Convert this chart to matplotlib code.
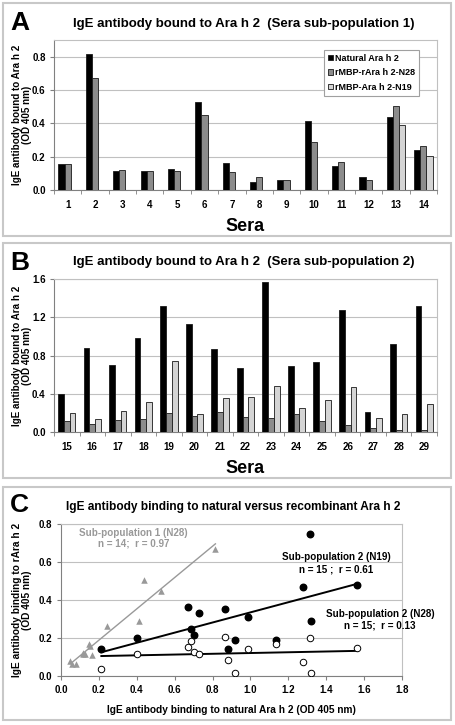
import numpy as np
import matplotlib
matplotlib.use("Agg")
import matplotlib.pyplot as plt
from matplotlib.patches import Rectangle
from matplotlib.ticker import MultipleLocator, FixedLocator

plt.rcParams['font.family'] = ['Liberation Sans', 'DejaVu Sans']
plt.rcParams['font.weight'] = 'bold'

# ---------------- data ----------------
sera_a = [str(i) for i in range(1, 15)]
natural_a = [0.155, 0.815, 0.117, 0.117, 0.128, 0.527, 0.163, 0.050, 0.060, 0.413, 0.147, 0.077, 0.437, 0.243]
n28_a = [0.158, 0.670, 0.122, 0.117, 0.115, 0.450, 0.110, 0.080, 0.062, 0.290, 0.167, 0.063, 0.505, 0.265]
n19_a = [np.nan] * 12 + [0.392, 0.207]

sera_b = [str(i) for i in range(15, 30)]
natural_b = [0.400, 0.880, 0.704, 0.986, 1.314, 1.133, 0.868, 0.673, 1.565, 0.687, 0.728, 1.276, 0.213, 0.917, 1.318]
n28_b = [0.115, 0.084, 0.125, 0.140, 0.199, 0.167, 0.206, 0.153, 0.150, 0.185, 0.118, 0.073, 0.038, 0.017, 0.017]
n19_b = [0.200, 0.140, 0.215, 0.310, 0.745, 0.192, 0.352, 0.363, 0.477, 0.250, 0.330, 0.470, 0.143, 0.190, 0.290]

series_names = ['Natural Ara h 2', 'rMBP-rAra h 2-N28', 'rMBP-Ara h 2-N19']
series_colors = ['#000000', '#8c8c8c', '#d4d4d4']

W, H = 455, 725
fig = plt.figure(figsize=(W / 100, H / 100), dpi=100)

def fx(px):
    return px / W

def fy(py):
    return 1 - py / H

# panel frames
for (x0, y0, x1, y1) in [(3, 3, 451, 236), (3, 243, 451, 478), (3, 487, 451, 720)]:
    fig.patches.append(Rectangle((fx(x0), fy(y1)), fx(x1) - fx(x0), fy(y0) - fy(y1),
                                 transform=fig.transFigure, fill=False,
                                 edgecolor='#c8c8c8', lw=1.5))

grid_c = '#c0c0c0'
axis_c = '#808080'

def bar_panel(rect, cats, vals, ylim, ystep, title, letter, ty, ly, legend=False):
    ax = fig.add_axes(rect)
    n = len(cats)
    x = np.arange(n)
    w = 0.225
    for k, (v, c, nm) in enumerate(zip(vals, series_colors, series_names)):
        ax.bar(x + (k - 1) * w, v, width=w, color=c, edgecolor='#1a1a1a', lw=0.6, label=nm, zorder=3)
    ax.set_xlim(-0.5, n - 0.5)
    ax.set_ylim(*ylim)
    ax.yaxis.set_major_locator(MultipleLocator(ystep))
    ax.yaxis.set_major_formatter(plt.FuncFormatter(lambda v, p: f'{v:.1f}'))
    ax.set_xticks(x)
    ax.set_xticklabels(cats)
    ax.xaxis.set_minor_locator(FixedLocator(np.arange(n + 1) - 0.5))
    ax.tick_params(axis='x', which='major', length=0, labelsize=7, pad=7)
    ax.tick_params(axis='x', which='minor', length=3, color=axis_c, direction='out')
    ax.tick_params(axis='y', labelsize=7, length=3, color=axis_c, pad=3)
    for lab in ax.get_xticklabels() + ax.get_yticklabels():
        lab.set_fontweight('bold')
    ax.grid(axis='y', color=grid_c, lw=0.8, zorder=0)
    for s in ['top', 'right']:
        ax.spines[s].set_color(grid_c)
    for s in ['left', 'bottom']:
        ax.spines[s].set_color(axis_c)
    ax.set_ylabel('IgE antibody bound to Ara h 2\n(OD 405 nm)', fontsize=7.1, fontweight='bold',
                  linespacing=1.05)
    ax.yaxis.label.set_va('center')
    ax.yaxis.set_label_coords((22 - 54) / 383, 0.5)
    ax.set_xlabel('Sera', fontsize=13, fontweight='bold', labelpad=6)
    fig.text(fx(244), fy(ty), title, ha='center', va='center', fontsize=9.5, fontweight='bold')
    fig.text(fx(10), fy(ly), letter, ha='left', va='center', fontsize=19, fontweight='bold')
    if legend:
        leg = ax.legend(loc='upper right', bbox_to_anchor=(0.953, 0.935), prop={'size': 6.5, 'weight': 'bold'},
                        handlelength=0.6, handleheight=0.6, handletextpad=0.2, fancybox=False,
                        edgecolor='#a0a0a0', framealpha=1, borderpad=0.45, labelspacing=0.6,
                        borderaxespad=0)
        leg.get_frame().set_linewidth(0.8)
    return ax

bar_panel([fx(54), fy(190), fx(437) - fx(54), fy(40) - fy(190)], sera_a,
          [natural_a, n28_a, n19_a], (0, 0.9), 0.2,
          'IgE antibody bound to Ara h 2  (Sera sub-population 1)', 'A', 24, 23, legend=True)

bar_panel([fx(54), fy(432), fx(437) - fx(54), fy(279) - fy(432)], sera_b,
          [natural_b, n28_b, n19_b], (0, 1.6), 0.4,
          'IgE antibody bound to Ara h 2  (Sera sub-population 2)', 'B', 262, 263)

# ---------------- panel C ----------------
axc = fig.add_axes([fx(61), fy(676), fx(402) - fx(61), fy(524) - fy(676)])
xa = np.array(natural_a); ya = np.array(n28_a)
xb = np.array(natural_b); yb19 = np.array(n19_b); yb28 = np.array(n28_b)

axc.scatter(xa, ya, marker='^', s=22, color='#999999', zorder=4, lw=0)
axc.scatter(xb, yb19, marker='o', s=22, color='black', zorder=4)
axc.scatter(xb, yb28, marker='o', s=22, facecolor='white', edgecolor='black', lw=0.7, zorder=4)

for xx, yy, col, lw in [(xa, ya, '#999999', 1.0), (xb, yb19, 'black', 1.4), (xb, yb28, 'black', 1.4)]:
    m, b = np.polyfit(xx, yy, 1)
    xs = np.array([xx.min(), xx.max()])
    axc.plot(xs, m * xs + b, color=col, lw=lw, zorder=3)

axc.set_xlim(0, 1.8)
axc.set_ylim(0, 0.8)
axc.xaxis.set_major_locator(MultipleLocator(0.2))
axc.yaxis.set_major_locator(MultipleLocator(0.2))
axc.xaxis.set_major_formatter(plt.FuncFormatter(lambda v, p: f'{v:.1f}'))
axc.yaxis.set_major_formatter(plt.FuncFormatter(lambda v, p: f'{v:.1f}'))
axc.tick_params(labelsize=7, length=3, color=axis_c)
for lab in axc.get_xticklabels() + axc.get_yticklabels():
    lab.set_fontweight('bold')
axc.grid(axis='y', color=grid_c, lw=0.8, zorder=0)
for s in ['top', 'right']:
    axc.spines[s].set_color(grid_c)
for s in ['left', 'bottom']:
    axc.spines[s].set_color(axis_c)
axc.set_xlabel('IgE antibody binding to natural Ara h 2 (OD 405 nm)', fontsize=7.3, fontweight='bold', labelpad=7)
axc.set_ylabel('IgE antibody binding to rAra h 2\n(OD 405 nm)', fontsize=7.3, fontweight='bold',
               linespacing=1.05)
axc.yaxis.label.set_va('center')
axc.yaxis.set_label_coords((22 - 61) / 341, 0.5)

fs = 7.1
axc.text(0.384, 0.753, 'Sub-population 1 (N28)', color='#999999', ha='center', va='center', fontsize=fs, fontweight='bold')
axc.text(0.384, 0.695, 'n = 14;  r = 0.97', color='#999999', ha='center', va='center', fontsize=fs, fontweight='bold')
axc.text(1.453, 0.626, 'Sub-population 2 (N19)', color='black', ha='center', va='center', fontsize=fs, fontweight='bold')
axc.text(1.453, 0.563, 'n = 15 ;  r = 0.61', color='black', ha='center', va='center', fontsize=fs, fontweight='bold')
axc.text(1.684, 0.326, 'Sub-population 2 (N28)', color='black', ha='center', va='center', fontsize=fs, fontweight='bold')
axc.text(1.684, 0.268, 'n = 15;  r = 0.13', color='black', ha='center', va='center', fontsize=fs, fontweight='bold')

fig.text(fx(233), fy(507), 'IgE antibody binding to natural versus recombinant Ara h 2', ha='center', va='center',
         fontsize=8.6, fontweight='bold')
fig.text(fx(10), fy(505), 'C', ha='left', va='center', fontsize=19, fontweight='bold')

fig.savefig('out.png', dpi=100)
